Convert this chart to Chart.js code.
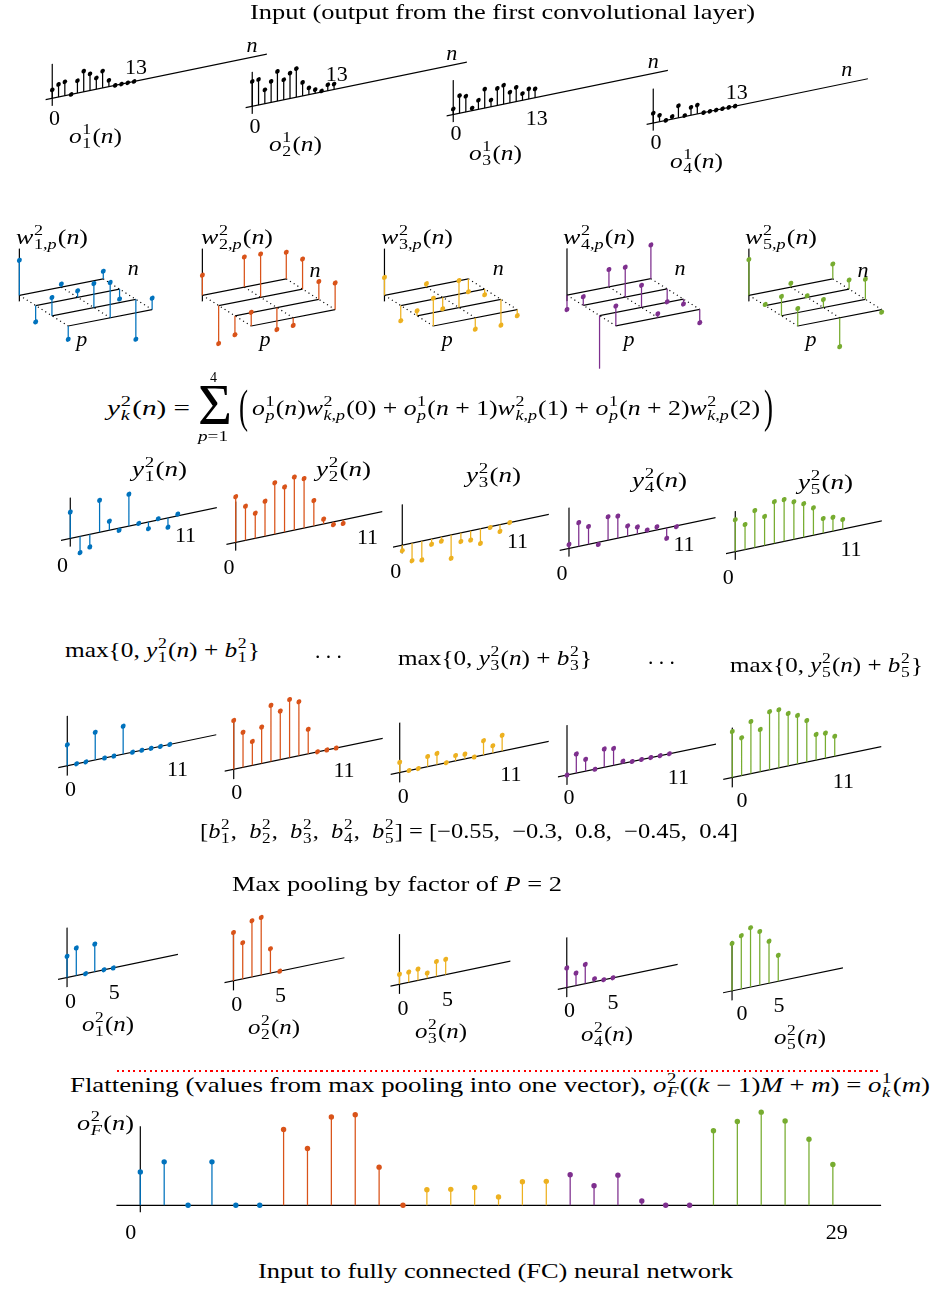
<!DOCTYPE html>
<html><head><meta charset="utf-8">
<script src="https://cdn.jsdelivr.net/npm/chart.js@4.4.1/dist/chart.umd.min.js"></script>
<style>
html,body{margin:0;padding:0;background:#fff;}
#page{position:relative;width:930px;height:1290px;overflow:hidden;background:#fff;}
#page canvas{position:absolute;}
.lbl{position:absolute;white-space:nowrap;font-family:"Liberation Serif","DejaVu Serif",serif;color:#000;line-height:1;transform-origin:0 50%;}
.lbl i{font-style:italic;}
.bl{display:inline-block;width:0;height:0;vertical-align:baseline;}
.ss{display:inline-flex;flex-direction:column;font-size:0.7em;line-height:0.95;vertical-align:0.58em;margin:0 1px 0 0.5px;}
.ss>span{display:block;}
#reddots{position:absolute;left:117px;top:1070px;width:763px;height:2px;background:repeating-linear-gradient(90deg,#f00 0 2px,transparent 2px 5.5px);}
</style></head>
<body><div id="page"><div id="reddots"></div></div>
<script>
// ---------------- DATA ----------------
const COLORS = ['#0072BD', '#D95319', '#EDB120', '#7E2F8E', '#77AC30'];

// Input o_k^1(n), n = 0..13
const o1_1 = [0.45, 0.67, 0.74, 0, 0.66, 1.1, 0.89, 0.6, 0.9, 0.34, 0, 0, 0, 0];
const o1_2 = [1.32, 1.36, 0.74, 1.12, 1.58, 1.07, 1.35, 1.52, 0.72, 0.36, 0.2, 0.06, 0.32, 0.29];
const o1_3 = [0.3, 0.94, 0.84, 0.14, 0.49, 1.01, 0.36, 0.91, 1.01, 0.57, 0.76, 0.36, 0.54, 0.47];
const o1_4 = [0.52, 0.34, 0, 0.14, 0.64, 0.05, 0.42, 0.47, 0, 0, 0, 0, 0, 0];

// Weights w_{k,p}^2(n): rows p = 1..4, columns n = 0..2
const weightN = [0, 1, 2];
const w2_1 = [[0.92, 0.08, 0.2], [-0.43, 0.17, -0.26], [0.48, 0.63, -1.05], [-0.35, 0.93, 0.3]];
const w2_2 = [[0.53, 0.79, 0.7], [-1.0, 1.14, 0.79], [-0.5, -0.58, 0.47], [0.36, -0.2, 0.7]];
const w2_3 = [[0.47, 0.09, -0.34], [-0.4, -0.3, -0.15], [0.13, 0.71, -0.68], [0.73, -0.3, -0.16]];
const w2_4 = [[-0.38, 0.46, 0.89], [0.23, 0.79, -0.34], [-1.4, 0.58, -0.13], [0.52, 0.1, -0.35]];
const w2_5 = [[0.94, 0.1, 0.39], [0.03, 0.04, 0.24], [0.51, 0.21, 0.53], [0.46, -0.76, -0.07]];

// Convolution outputs y_k^2(n), n = 0..11
const y2_1 = [0.93, -0.58, -0.45, 1.13, 0.32, -0.08, 1.13, 0.02, -0.24, 0.04, -0.33, 0.06];
const y2_2 = [1.62, 1.21, 0.89, 1.24, 1.82, 1.6, 1.88, 1.75, 0.9, 0.17, -0.1, -0.13];
const y2_3 = [-0.2, -0.63, -0.67, -0.19, -0.15, -0.83, -0.31, -0.33, -0.52, -0.03, -0.24, 0.0];
const y2_4 = [0.14, 0.84, 0.63, -0.08, 0.83, 0.78, 0.36, 0.25, 0.07, 0.11, -0.37, -0.03];
const y2_5 = [1.13, 0.89, 1.31, 1.03, 1.48, 1.48, 1.33, 1.19, 0.97, 0.52, 0.49, 0.34];

// ReLU outputs max{0, y + b}, n = 0..11
const r2_1 = [0.74, 0, 0, 0.98, 0, 0, 0.99, 0, 0, 0, 0, 0];
const r2_2 = [1.73, 1.24, 0.85, 1.29, 1.99, 1.72, 2.06, 1.91, 0.87, 0, 0, 0];
const r2_3 = [0.36, 0, 0, 0.36, 0.4, 0, 0.19, 0.17, 0, 0.51, 0.26, 0.56];
const r2_4 = [0, 0.68, 0.42, 0, 0.65, 0.6, 0.08, 0, 0, 0, 0, 0];
const r2_5 = [1.63, 1.34, 1.85, 1.5, 2.06, 2.06, 1.86, 1.72, 1.47, 0.91, 0.89, 0.71];

// Max-pooled o_k^2(n), n = 0..5
const o2_1 = [0.75, 0.98, 0, 0.98, 0, 0];
const o2_2 = [1.71, 1.28, 1.99, 2.04, 0.86, 0];
const o2_3 = [0.35, 0.36, 0.4, 0.19, 0.53, 0.54];
const o2_4 = [0.69, 0.44, 0.68, 0.1, 0, 0];
const o2_5 = [1.68, 1.89, 2.1, 1.9, 1.49, 0.92];

// Flattened vector o_F^2(n), n = 0..29 (pooled vectors one after another)
const oF2 = [].concat(o2_1, o2_2, o2_3, o2_4, o2_5);

const biasValues = [-0.55, -0.3, 0.8, -0.45, 0.4];
const inputTicks = ['0', '13'];
const convTicks = ['0', '11'];
const poolTicks = ['0', '5'];
const flatTicks = ['0', '29'];

// ---------------- LAYOUT ----------------
const L = {
  input: {origins: [[49,100.6],[249,108.6],[450,116.9],[650,125.3]], dx: 6.49, slope: 0.206, ppu: 20, axis: [-1.05, 34.1], vaxis: [-0.4, 1.83], r: 2.3},
  weight: {ox: [16,199,381.1,563.6,745.5], oy: 296, dx: 43.8, slope: 0.196, ppu: 40, ldx: 17, ldy: 10.8, vaxis: [-0.16, 1.23], r: 2.5},
  conv: {origins: [[67.3,540.6],[232.7,544.6],[399.3,547.4],[566,550.6],[732.3,553.9]], dx: 10.18, slope: 0.21, ppu: 30, axis: [-0.95, 15], vaxis: [-0.29, 1.44], r: 2.5},
  relu: {origins: [[64.3,768],[230.7,771.5],[396.7,774.7],[564,777.3],[729.3,779.8]], dx: 9.7, slope: 0.208, ppu: 30, axis: [-0.97, 16], vaxis: [-0.35, 1.77], r: 2.5},
  pool: {origins: [[64.3,979.7],[230.7,983],[396.7,986.4],[564,989.6],[729.3,993.1]], dx: 9.72, slope: 0.208, ppu: 30, axis: [-0.97, 12], vaxis: [-0.34, 1.77], r: 2.5},
  flat: {origin: [136.7,1207.7], dx: 24.12, slope: 0, ppu: 47.4, axis: [-1, 31.02], vaxis: [-0.155, 1.78], r: 2.7}
};

const page = document.getElementById('page');

// Oblique (skew) projection: the n axis rises to the right, stems stay vertical.
const obliquePlugin = {
  id: 'oblique',
  beforeDatasetDraw(chart, args, opts) {
    const ctx = chart.ctx;
    ctx.save();
    ctx.transform(1, -opts.slope, 0, 1, 0, opts.slope * opts.ox);
  },
  afterDatasetDraw(chart) { chart.ctx.restore(); }
};

function makeChart(box, datasets, g) {
  const cv = document.createElement('canvas');
  const l = Math.round(box.l), t = Math.round(box.t);
  cv.width = Math.round(box.w); cv.height = Math.round(box.h);
  cv.style.left = l + 'px'; cv.style.top = t + 'px';
  cv.style.width = cv.width + 'px'; cv.style.height = cv.height + 'px';
  page.appendChild(cv);
  const W = cv.width, H = cv.height;
  new Chart(cv.getContext('2d'), {
    type: 'scatter',
    data: {datasets},
    options: {
      responsive: false, animation: false, events: [], devicePixelRatio: 1,
      layout: {padding: 0},
      scales: {
        x: {type: 'linear', display: false, bounds: 'data', min: (l - g.ox) / g.dx, max: (l + W - g.ox) / g.dx},
        y: {type: 'linear', display: false, bounds: 'data', min: (g.oy - t - H) / g.ppu, max: (g.oy - t) / g.ppu}
      },
      plugins: {legend: {display: false}, tooltip: {enabled: false}, oblique: {slope: g.slope, ox: g.ox - l}}
    },
    plugins: [obliquePlugin]
  });
}

const lineDs = (data, color, width, dash) => ({data, showLine: true, borderColor: color, borderWidth: width, borderDash: dash || [], pointRadius: 0, spanGaps: false, clip: false, tension: 0});
const markDs = (data, color, r) => ({data, showLine: false, pointRadius: r, pointBackgroundColor: color, pointBorderColor: color, pointBorderWidth: 0, clip: false});

function stemPlot(cfg, origin, values, color) {
  const [ox, oy] = origin;
  const marks = values.map((v, i) => ({x: i, y: v}));
  const stems = [];
  values.forEach((v, i) => stems.push({x: i, y: 0}, {x: i, y: v}, {x: i, y: null}));
  const ds = [
    markDs(marks, color, cfg.r),
    lineDs(stems, color, 1.25),
    lineDs([{x: cfg.axis[0], y: 0}, {x: cfg.axis[1], y: 0}], '#000', 1.2),
    lineDs([{x: 0, y: cfg.vaxis[0]}, {x: 0, y: cfg.vaxis[1]}], '#000', 1.2)
  ];
  makeChart({l: ox - 25, t: oy - 95, w: cfg.axis[1] * cfg.dx + 45, h: 135}, ds,
            {ox, oy, dx: cfg.dx, ppu: cfg.ppu, slope: cfg.slope});
}

function weightPlot(Wk, ox, color, h) {
  const c = L.weight, oy = c.oy;
  const P = (n, p, v) => ({x: n + p * c.ldx / c.dx, y: v - p * (c.ldy + c.slope * c.ldx) / c.ppu});
  const marks = [], stems = [], nlines = [], plines = [];
  Wk.forEach((row, p) => {
    row.forEach((v, n) => {
      const b = P(n, p, 0), top = P(n, p, v);
      marks.push(top);
      stems.push(b, top, {x: b.x, y: null});
    });
    const a = P(weightN[0], p, 0), e = P(weightN[weightN.length - 1], p, 0);
    nlines.push(a, e, {x: a.x, y: null});
  });
  weightN.forEach(n => {
    const a = P(n, 0, 0), e = P(n, Wk.length - 1, 0);
    plines.push(a, e, {x: a.x, y: null});
  });
  const ds = [
    markDs(marks, color, c.r),
    lineDs(stems, color, 1.25),
    lineDs(nlines, '#000', 1.2),
    lineDs(plines, '#000', 1.1, [1.2, 3.6]),
    lineDs([P(0, 0, c.vaxis[0]), P(0, 0, c.vaxis[1])], '#000', 1.2)
  ];
  makeChart({l: ox - 15, t: 214, w: 190, h: h}, ds, {ox, oy, dx: c.dx, ppu: c.ppu, slope: c.slope});
}

// Row 1: input
[o1_1, o1_2, o1_3, o1_4].forEach((v, i) => stemPlot(L.input, L.input.origins[i], v, '#000'));
// Row 2: weights
[w2_1, w2_2, w2_3, w2_4, w2_5].forEach((w, i) => weightPlot(w, L.weight.ox[i], COLORS[i], i === 3 ? 157 : 162));
// Row 3: convolution outputs
[y2_1, y2_2, y2_3, y2_4, y2_5].forEach((v, i) => stemPlot(L.conv, L.conv.origins[i], v, COLORS[i]));
// Row 4: ReLU
[r2_1, r2_2, r2_3, r2_4, r2_5].forEach((v, i) => stemPlot(L.relu, L.relu.origins[i], v, COLORS[i]));
// Row 5: pooled
[o2_1, o2_2, o2_3, o2_4, o2_5].forEach((v, i) => stemPlot(L.pool, L.pool.origins[i], v, COLORS[i]));

// Flattened
(function () {
  const c = L.flat, [ox, oy] = c.origin;
  const ds = [];
  const M = o2_1.length;
  COLORS.forEach((col, k) => {
    const idx = oF2.map((v, i) => i).filter(i => Math.floor(i / M) === k);
    ds.push(markDs(idx.map(i => ({x: i, y: oF2[i]})), col, c.r));
  });
  COLORS.forEach((col, k) => {
    const st = [];
    oF2.forEach((v, i) => { if (Math.floor(i / M) === k) st.push({x: i, y: 0}, {x: i, y: v}, {x: i, y: null}); });
    ds.push(lineDs(st, col, 1.25));
  });
  ds.push(lineDs([{x: c.axis[0], y: 0}, {x: c.axis[1], y: 0}], '#000', 1.2));
  ds.push(lineDs([{x: 0, y: c.vaxis[0]}, {x: 0, y: c.vaxis[1]}], '#000', 1.2));
  makeChart({l: ox - 40, t: oy - 100, w: c.axis[1] * c.dx + 60, h: 125}, ds, {ox, oy, dx: c.dx, ppu: c.ppu, slope: c.slope});
})();

// ---------------- TEXT ----------------
const K = {d: 0.33, f: 0.26, n: 0.23, p: 0.12, t: 0.25, dots: 0.05, paren: 0.235};
function addLabel(html, cx, cy, opt) {
  opt = opt || {};
  const fs = opt.fs || 21;
  const d = document.createElement('div');
  d.className = 'lbl';
  d.style.fontSize = fs + 'px';
  d.innerHTML = '<span class="bl"></span>' + html;
  page.appendChild(d);
  const bl = d.querySelector('.bl').offsetTop;
  const w0 = d.getBoundingClientRect().width;
  const W = opt.w || w0;
  d.style.left = (cx - W / 2) + 'px';
  d.style.top = (cy + K[opt.k || 'f'] * fs - bl) + 'px';
  if (opt.w) d.style.transform = 'scaleX(' + (W / w0) + ')';
}
const I = s => '<i>' + s + '</i>';
const S = (sup, sub) => '<span class="ss"><span>' + sup + '</span><span>' + sub + '</span></span>';
const F = (base, sup, sub, arg) => I(base) + S(sup, sub) + '(' + arg + ')';
const minus = v => String(v).replace('-', '\u2212');
const DIG = 22;

const LBL = {
  input: {zero: [[54.5,118],[255,126],[456,133],[656,141.7]], last: [[136,67],[336.7,74],[536.7,117.5],[736.7,91.7]], n: [[252,47],[451.7,55],[653.3,63.3],[846.7,71]], name: [[95,137.5],[295.5,146],[495.8,155],[696.7,163]]},
  weight: {name: [[52,238.3],[236.7,238.3],[417,239],[599,239],[781,239]], n: [[133.3,270],[315,271.7],[498.2,270],[680,270],[863,271.7]], p: [[81.7,343.3],[265,343.3],[447.3,343.3],[629,343.3],[811,343.3]]},
  conv: {name: [[159,471],[343,470.8],[493.3,476.7],[659,481.7],[825,484]], zero: [[62.5,565],[229,566.7],[395.8,570.8],[562,572.5],[728.3,576.7]], last: [[185.5,535],[367.5,536.7],[517.5,540.8],[684,543.3],[851,548.3]]},
  relu: {zero: [[70.5,789],[236.8,791.7],[403.3,795.8],[569,796.7],[742,800]], last: [[177.5,768.3],[344,770],[510.8,773.3],[678.3,776.7],[843.3,780.8]]},
  pool: {zero: [[70.5,1000.8],[236.8,1004],[403,1007.5],[569.5,1010],[742,1012.5]], last: [[114.3,991.7],[280.5,995],[447.5,998.3],[613,1001.7],[779,1005]], name: [[107.5,1025.8],[273.7,1029],[440.8,1032.5],[606.7,1035.8],[800,1039]]}
};

addLabel('Input (output from the first convolutional layer)', 502.5, 14, {w: 505, k: 't'});

LBL.input.zero.forEach((p, i) => {
  addLabel(inputTicks[0], p[0], p[1], {k: 'd', fs: DIG});
  addLabel(inputTicks[1], LBL.input.last[i][0], LBL.input.last[i][1], {k: 'd', fs: DIG});
  addLabel(I('n'), LBL.input.n[i][0], LBL.input.n[i][1], {k: 'n', fs: 22});
  addLabel(F('o', '1', String(i + 1), I('n')), LBL.input.name[i][0], LBL.input.name[i][1], {w: 53});
});

LBL.weight.name.forEach((p, i) => {
  addLabel(F('w', '2', (i + 1) + ',' + I('p'), I('n')), p[0], p[1], {w: 72});
  addLabel(I('n'), LBL.weight.n[i][0], LBL.weight.n[i][1], {k: 'n', fs: 22});
  addLabel(I('p'), LBL.weight.p[i][0], LBL.weight.p[i][1], {k: 'p', fs: 22});
});

// Equation
const kp = I('k') + ',' + I('p');
addLabel(F('y', '2', I('k'), I('n')) + ' =', 148.5, 410, {w: 83});
addLabel('\u03A3', 214.5, 406, {fs: 56, k: 'd', w: 34});
addLabel('4', 213.5, 377, {fs: 14, k: 'd'});
addLabel(I('p') + '=1', 213, 437, {fs: 14, k: 'f', w: 30});
addLabel('(', 243, 411, {fs: 46, k: 'paren', w: 9});
addLabel(')', 768, 411, {fs: 46, k: 'paren', w: 9});
addLabel(F('o', '1', I('p'), I('n')) + F('w', '2', kp, '0') + ' + ' +
         F('o', '1', I('p'), I('n') + ' + 1') + F('w', '2', kp, '1') + ' + ' +
         F('o', '1', I('p'), I('n') + ' + 2') + F('w', '2', kp, '2'), 506, 410, {w: 508});

LBL.conv.name.forEach((p, i) => {
  addLabel(F('y', '2', String(i + 1), I('n')), p[0], p[1], {w: 55});
  addLabel(convTicks[0], LBL.conv.zero[i][0], LBL.conv.zero[i][1], {k: 'd', fs: DIG});
  addLabel(convTicks[1], LBL.conv.last[i][0], LBL.conv.last[i][1], {k: 'd', fs: DIG});
});

// ReLU headers
const maxLbl = k => 'max{0, ' + F('y', '2', String(k), I('n')) + ' + ' + I('b') + S('2', String(k)) + '}';
addLabel(maxLbl(1), 162.5, 652, {w: 195});
addLabel('. . .', 328, 657, {k: 'dots', w: 27});
addLabel(maxLbl(3), 495, 659.5, {w: 194});
addLabel('. . .', 661, 663, {k: 'dots', w: 27});
addLabel(maxLbl(5), 826.5, 666.5, {w: 193});

LBL.relu.zero.forEach((p, i) => {
  addLabel(convTicks[0], p[0], p[1], {k: 'd', fs: DIG});
  addLabel(convTicks[1], LBL.relu.last[i][0], LBL.relu.last[i][1], {k: 'd', fs: DIG});
});

addLabel('[' + biasValues.map((v, i) => I('b') + S('2', String(i + 1))).join(',&nbsp; ') + '] = [' +
         biasValues.map(minus).join(',&nbsp; ') + ']', 469, 833, {w: 538});
addLabel('Max pooling by factor of ' + I('P') + ' = 2', 397, 886, {w: 330, k: 't'});

LBL.pool.zero.forEach((p, i) => {
  addLabel(poolTicks[0], p[0], p[1], {k: 'd', fs: DIG});
  addLabel(poolTicks[1], LBL.pool.last[i][0], LBL.pool.last[i][1], {k: 'd', fs: DIG});
  addLabel(F('o', '2', String(i + 1), I('n')), LBL.pool.name[i][0], LBL.pool.name[i][1], {w: 52});
});

addLabel('Flattening (values from max pooling into one vector), ' + I('o') + S('2', I('F')) +
         '((' + I('k') + ' \u2212 1)' + I('M') + ' + ' + I('m') + ') = ' + F('o', '1', I('k'), I('m')), 500, 1087, {w: 860, k: 't'});
addLabel(F('o', '2', I('F'), I('n')), 105, 1125, {w: 57});
addLabel(flatTicks[0], 130.8, 1231.7, {k: 'd', fs: DIG});
addLabel(flatTicks[1], 836.7, 1231.7, {k: 'd', fs: DIG});
addLabel('Input to fully connected (FC) neural network', 495.5, 1273, {w: 475, k: 't'});
</script>
</body></html>
